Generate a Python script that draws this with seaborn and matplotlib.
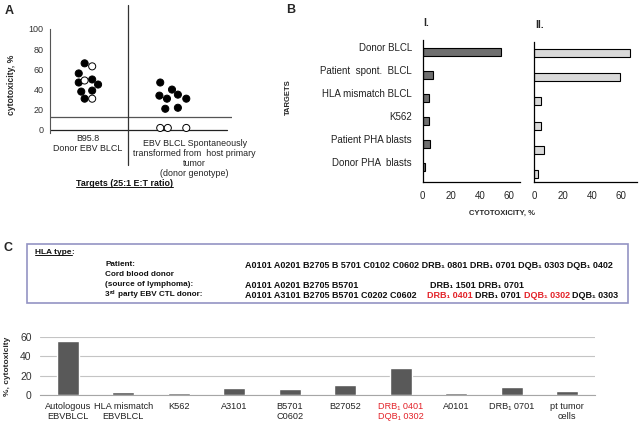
import matplotlib
matplotlib.use("Agg")
import matplotlib.pyplot as plt
import matplotlib.transforms as mtransforms
from matplotlib.lines import Line2D
from matplotlib.patches import Rectangle
import numpy as np
import pandas as pd
import seaborn as sns

# ---------------- data ----------------
# Panel A (cytotoxicity %, jitter offsets in category units)
a_groups = ["B95.8\nDonor EBV BLCL",
            "EBV BLCL Spontaneously\ntransformed from  host primary\ntumor\n(donor genotype)"]
a_left_filled_y = [66, 56, 47, 50, 45, 38, 39, 31]
a_left_filled_dx = [-0.04, -0.11, -0.11, 0.05, 0.12, -0.08, 0.05, -0.04]
a_left_open_y = [63, 49, 31]
a_left_open_dx = [0.05, -0.04, 0.05]
a_right_filled_y = [47, 34, 40, 31, 35, 31, 21, 22]
a_right_filled_dx = [-0.14, -0.15, 0.0, -0.06, 0.07, 0.17, -0.08, 0.07]
a_right_open_y = [2, 2, 2]
a_right_open_dx = [-0.14, -0.05, 0.17]
a_threshold = 13
a_yticks = [0, 20, 40, 60, 80, 100]

# Panel B
b_targets = ["Donor BLCL", "Patient  spont.  BLCL", "HLA mismatch BLCL", "K562",
             "Patient PHA blasts", "Donor PHA  blasts"]
b_I = [55, 7, 4.8, 4.8, 5.3, 1.8]
b_II = [66, 59, 4.8, 4.8, 6.9, 3]
b_xticks = [0, 20, 40, 60]
b_xminor = [10, 30, 50]

# Panel C table
c_row_labels = ["Patient:", "Cord blood donor", "(source of lymphoma):"]
c_patient = "A0101 A0201 B2705 B 5701 C0102 C0602 DRB\u2081 0801 DRB\u2081 0701 DQB\u2081 0303 DQB\u2081 0402"
c_cord_a = "A0101 A0201 B2705 B5701"
c_cord_b = "DRB\u2081 1501 DRB\u2081 0701"
c_third = [("A0101 A3101 B2705 B5701 C0202 C0602", "#111111"),
           ("DRB\u2081 0401", "#e3232a"), ("DRB\u2081 0701", "#111111"),
           ("DQB\u2081 0302", "#e3232a"), ("DQB\u2081 0303", "#111111")]

# Panel C bar chart
c_categories = ["Autologous\nEBVBLCL", "HLA mismatch\nEBVBLCL", "K562", "A3101", "B5701\nC0602",
                "B27052", "DRB\u2081 0401\nDQB\u2081 0302", "A0101", "DRB\u2081 0701", "pt tumor\ncells"]
c_values = [55.5, 3.4, 1.7, 7.3, 6.6, 10.4, 27.7, 2.4, 8.3, 4.5]
c_yticks = [0, 20, 40, 60]

# ---------------- style ----------------
sns.set_style("white")
plt.rcParams["font.family"] = ["Liberation Sans", "DejaVu Sans"]
plt.rcParams["axes.unicode_minus"] = False

W, H = 640, 429
fig = plt.figure(figsize=(6.4, 4.29), dpi=100)
fig.patch.set_facecolor("white")


def rect(x0, y0, x1, y1):
    return [x0 / W, 1 - y1 / H, (x1 - x0) / W, (y1 - y0) / H]


def fx(x):
    return x / W


def fy(y):
    return 1 - y / H


# ---------------- Panel A ----------------
dfA = pd.DataFrame({
    "x": [0 + d for d in a_left_filled_dx] + [1 + d for d in a_right_filled_dx]
         + [0 + d for d in a_left_open_dx] + [1 + d for d in a_right_open_dx],
    "y": a_left_filled_y + a_right_filled_y + a_left_open_y + a_right_open_y,
    "kind": ["filled"] * (len(a_left_filled_y) + len(a_right_filled_y))
            + ["open"] * (len(a_left_open_y) + len(a_right_open_y)),
})
axA = fig.add_axes(rect(50, 29, 232, 133))
sns.scatterplot(data=dfA, x="x", y="y", hue="kind",
                palette={"filled": "black", "open": "white"},
                edgecolor="black", linewidth=0.7, s=26, legend=False, ax=axA, zorder=3)
axA.set_xlim(-0.452, 1.714)
axA.set_ylim(-3, 100)
axA.set_xticks([])
axA.set_xlabel("")
axA.set_yticks(a_yticks)
for s in ["top", "right", "bottom"]:
    axA.spines[s].set_visible(False)
axA.spines["left"].set_color("#555555")
axA.spines["left"].set_linewidth(0.8)
axA.tick_params(axis="y", labelsize=6.5, labelcolor="#333333", color="#555555",
                length=2.5, width=0.8, pad=2)
axA.axhline(a_threshold, color="#555555", lw=0.9)
axA.axhline(0, xmin=0, xmax=0.973, color="#222222", lw=0.9)
axA.set_ylabel("cytotoxicity, %", fontsize=6.2, fontweight="bold", va="center")
axA.yaxis.set_label_coords((12 - 50) / 182, (133 - 85) / 104)
axA.annotate(a_groups[0], xy=(0, -3), xycoords="data", xytext=(0, -1),
             textcoords="offset points", ha="center", va="top", fontsize=6.4,
             color="#222222", linespacing=1.15, annotation_clip=False)
axA.annotate(a_groups[1], xy=(1.27, -3), xycoords="data", xytext=(0, -4),
             textcoords="offset points", ha="center", va="top", fontsize=6.4,
             color="#222222", linespacing=1.15, annotation_clip=False)

tA = fig.text(fx(124), fy(183), "Targets (25:1 E:T ratio)", fontsize=6.4,
              fontweight="bold", ha="center", va="center", color="#111111")
fig.add_artist(Line2D([fx(128), fx(128)], [fy(5), fy(165)], transform=fig.transFigure,
                      color="#333333", lw=0.9))

# ---------------- Panel B ----------------
axI = fig.add_axes(rect(422.5, 40, 520, 182))
sns.barplot(x=b_I, y=b_targets, orient="h", color="#6f6f6f", edgecolor="black",
            linewidth=0.8, width=0.35, saturation=1, errorbar=None, ax=axI)
axI.set_xlim(0, 68)
axI.set_ylim(5.65, -0.5)
axII = fig.add_axes(rect(534, 42, 637, 182))
sns.barplot(x=b_II, y=b_targets, orient="h", color="#d9d9d9", edgecolor="black",
            linewidth=0.8, width=0.33, saturation=1, errorbar=None, ax=axII)
axII.set_xlim(0, 71)
axII.set_ylim(5.33, -0.455)

for ax in (axI, axII):
    ax.set_xlabel("")
    ax.set_ylabel("")
    ax.set_xticks(b_xticks)
    ax.set_xticks(b_xminor, minor=True)
    ax.set_yticks(range(len(b_targets)))
    ax.set_yticks([i + 0.3 for i in range(len(b_targets))], minor=True)
    for s in ["top", "right"]:
        ax.spines[s].set_visible(False)
    for s in ["left", "bottom"]:
        ax.spines[s].set_color("black")
        ax.spines[s].set_linewidth(0.9)
    ax.tick_params(axis="x", which="both", direction="out", length=3.5, width=0.8,
                   labelsize=7, color="black", pad=3)
    ax.tick_params(axis="y", which="major", length=0)
    ax.tick_params(axis="y", which="minor", length=2, width=1.4, direction="out", color="black")

axI.set_yticklabels(b_targets, fontsize=7, color="#222222")
axI.tick_params(axis="y", which="major", pad=7.5)
off = mtransforms.ScaledTranslation(0, 0.05, fig.dpi_scale_trans)
for lab in axI.get_yticklabels():
    lab.set_transform(lab.get_transform() + off)
axII.set_yticklabels([])

fig.text(fx(423), fy(23), "I.", fontsize=7.5, fontweight="bold", ha="left", va="center")
fig.text(fx(535), fy(25), "II.", fontsize=7.5, fontweight="bold", ha="left", va="center")
fig.text(fx(288), fy(97), "TARGETS", fontsize=5.5, fontweight="bold", rotation=90,
         ha="center", va="center")
fig.text(fx(502), fy(213), "CYTOTOXICITY, %", fontsize=5.5, fontweight="bold",
         ha="center", va="center")

# panel letters
fig.text(fx(9), fy(11), "A", fontsize=9, fontweight="bold", ha="center", va="center")
fig.text(fx(291), fy(10), "B", fontsize=9, fontweight="bold", ha="center", va="center")
fig.text(fx(8), fy(248), "C", fontsize=9, fontweight="bold", ha="center", va="center")

# ---------------- Panel C table ----------------
fig.add_artist(Rectangle((fx(27), fy(303)), (628 - 27) / W, (303 - 244) / H,
                         transform=fig.transFigure, fill=False, edgecolor="#9393c4", lw=1.2))
tHLA = fig.text(fx(35), fy(252), "HLA type", fontsize=6, fontweight="bold",
                ha="left", va="center", color="#111111")
row_y = [265, 274, 285, 295]
for lbl, yy in zip(c_row_labels, row_y[:3]):
    fig.text(fx(105), fy(yy), lbl, fontsize=5.9, fontweight="bold", ha="left",
             va="center", color="#111111")
fig.text(fx(245), fy(row_y[0]), c_patient, fontsize=6.5, fontweight="bold",
         ha="left", va="center", color="#111111")
fig.text(fx(245), fy(row_y[2]), c_cord_a, fontsize=6.5, fontweight="bold",
         ha="left", va="center", color="#111111")
fig.text(fx(430), fy(row_y[2]), c_cord_b, fontsize=6.5, fontweight="bold",
         ha="left", va="center", color="#111111")

renderer = fig.canvas.get_renderer()


def place_runs(x0, y0, parts):
    """parts: (text, color, size, dy_px, gap_px)"""
    x = x0
    out = []
    for txt, col, size, dy, gap in parts:
        x += gap
        t = fig.text(fx(x), fy(y0 - dy), txt, fontsize=size, fontweight="bold",
                     ha="left", va="center", color=col)
        bb = t.get_window_extent(renderer)
        x = bb.x1
        out.append(t)
    return out


place_runs(105, row_y[3], [("3", "#111111", 5.9, 0, 0),
                           ("rd", "#111111", 4.0, 2, 0.3),
                           ("party EBV CTL donor:", "#111111", 5.9, 0, 2.2)])
gap = 2.6
fig.text(fx(245), fy(row_y[3]), c_third[0][0], fontsize=6.5, fontweight="bold",
         ha="left", va="center", color=c_third[0][1])
place_runs(427, row_y[3], [(txt, col, 6.5, 0, (0 if i == 0 else gap))
                           for i, (txt, col) in enumerate(c_third[1:])])
bbH = tHLA.get_window_extent(renderer)
fig.text(bbH.x1 / W, fy(252), ":", fontsize=6, fontweight="bold", ha="left",
         va="center", color="#111111")


def underline(t, dy=0.5):
    bb = t.get_window_extent(renderer)
    fig.add_artist(Line2D([bb.x0 / W, bb.x1 / W], [(bb.y0 + dy) / H, (bb.y0 + dy) / H],
                          transform=fig.transFigure, color="#111111", lw=0.7))


underline(tHLA, 0.8)
underline(tA, 0.8)

# ---------------- Panel C bars ----------------
axC = fig.add_axes(rect(40, 337, 595, 395))
sns.barplot(x=c_categories, y=c_values, color="#595959", width=0.4, saturation=1,
            errorbar=None, ax=axC)
axC.set_ylim(0, 60)
axC.set_xlim(-0.5, len(c_categories) - 0.5)
axC.set_yticks(c_yticks)
axC.yaxis.grid(True, color="#c4c4c4", lw=0.8)
axC.set_axisbelow(True)
for s in ["top", "right", "left"]:
    axC.spines[s].set_visible(False)
axC.spines["bottom"].set_color("#a6a6a6")
axC.spines["bottom"].set_linewidth(0.8)
axC.set_xticks(np.arange(-0.5, len(c_categories), 1.0), minor=True)
axC.tick_params(axis="y", length=0, labelsize=7.5, labelcolor="#333333", pad=6)
axC.tick_params(axis="x", which="major", length=0, labelsize=6.6, labelcolor="#222222", pad=5)
axC.tick_params(axis="x", which="minor", length=3, width=0.8, color="#a6a6a6")
axC.set_xlabel("")
for lab in axC.get_xticklabels():
    lab.set_linespacing(1.15)
axC.get_xticklabels()[6].set_color("#e3232a")
axC.set_ylabel("%, cytotoxicity", fontsize=6, fontweight="bold", va="center")
axC.yaxis.set_label_coords((8 - 40) / 555, (395 - 366) / 58)

fig.savefig("out.png", dpi=100)
